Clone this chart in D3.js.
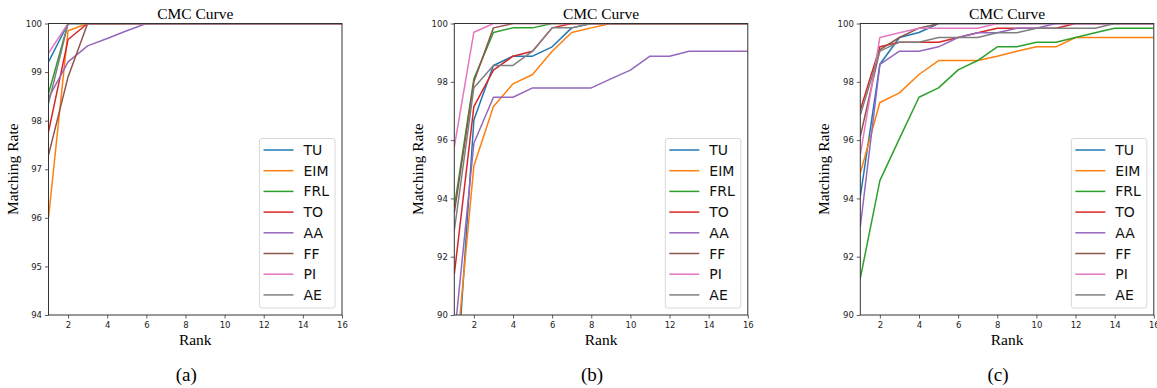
<!DOCTYPE html>
<html>
<head>
<meta charset="utf-8">
<script src="https://cdn.jsdelivr.net/npm/d3@7"></script>
<style>
  html, body { margin: 0; padding: 0; background: #fff; }
  svg { display: block; }
</style>
</head>
<body>
<svg id="chart" width="1157" height="388"></svg>
<script>
// CMC curves, three panels (a) (b) (c)

const ranks = d3.range(1, 17);
const methods = ["TU", "EIM", "FRL", "TO", "AA", "FF", "PI", "AE"];
const methodColors = ["#1f77b4", "#ff7f0e", "#2ca02c", "#d62728", "#9467bd", "#8c564b", "#e377c2", "#7f7f7f"];
const xTicks = [2, 4, 6, 8, 10, 12, 14, 16];
const panelLabels = ["(a)", "(b)", "(c)"];
const yDomains = [[94, 100], [90, 100], [90, 100]];
const yTicksA = [94, 95, 96, 97, 98, 99, 100];
const yTicksBC = [90, 92, 94, 96, 98, 100];

// rows follow `methods`, columns follow `ranks`
const rateA = [
    [99.21, 100, 100, 100, 100, 100, 100, 100, 100, 100, 100, 100, 100, 100, 100, 100],
    [96.0, 99.85, 100, 100, 100, 100, 100, 100, 100, 100, 100, 100, 100, 100, 100, 100],
    [98.56, 100, 100, 100, 100, 100, 100, 100, 100, 100, 100, 100, 100, 100, 100, 100],
    [97.77, 99.67, 100, 100, 100, 100, 100, 100, 100, 100, 100, 100, 100, 100, 100, 100],
    [98.47, 99.21, 99.54, 99.69, 99.85, 100, 100, 100, 100, 100, 100, 100, 100, 100, 100, 100],
    [97.29, 98.9, 100, 100, 100, 100, 100, 100, 100, 100, 100, 100, 100, 100, 100, 100],
    [99.39, 100, 100, 100, 100, 100, 100, 100, 100, 100, 100, 100, 100, 100, 100, 100],
    [98.35, 100, 100, 100, 100, 100, 100, 100, 100, 100, 100, 100, 100, 100, 100, 100],
];

const rateB = [
    [86.5, 96.69, 98.56, 98.88, 98.88, 99.2, 99.85, 100, 100, 100, 100, 100, 100, 100, 100, 100],
    [87.9, 95.11, 97.15, 97.93, 98.25, 99.05, 99.69, 99.85, 100, 100, 100, 100, 100, 100, 100, 100],
    [93.7, 98.1, 99.69, 99.85, 99.85, 100, 100, 100, 100, 100, 100, 100, 100, 100, 100, 100],
    [91.4, 97.15, 98.4, 98.88, 99.05, 99.85, 100, 100, 100, 100, 100, 100, 100, 100, 100, 100],
    [89.2, 95.89, 97.47, 97.47, 97.79, 97.79, 97.79, 97.79, 98.1, 98.4, 98.88, 98.88, 99.05, 99.05, 99.05, 99.05],
    [93.5, 98.0, 99.85, 100, 100, 100, 100, 100, 100, 100, 100, 100, 100, 100, 100, 100],
    [95.77, 99.7, 100, 100, 100, 100, 100, 100, 100, 100, 100, 100, 100, 100, 100, 100],
    [92.9, 97.8, 98.56, 98.56, 99.05, 99.85, 99.85, 100, 100, 100, 100, 100, 100, 100, 100, 100],
];

const rateC = [
    [94.06, 98.6, 99.52, 99.69, 100, 100, 100, 100, 100, 100, 100, 100, 100, 100, 100, 100],
    [94.86, 97.29, 97.62, 98.25, 98.73, 98.73, 98.73, 98.88, 99.05, 99.2, 99.2, 99.52, 99.52, 99.52, 99.52, 99.52],
    [91.26, 94.61, 96.05, 97.47, 97.79, 98.41, 98.73, 99.2, 99.2, 99.36, 99.36, 99.52, 99.68, 99.84, 99.84, 99.84],
    [97.03, 99.2, 99.36, 99.36, 99.36, 99.52, 99.68, 99.84, 99.84, 99.84, 99.84, 100, 100, 100, 100, 100],
    [93.03, 98.6, 99.05, 99.05, 99.2, 99.52, 99.68, 99.68, 99.84, 99.84, 100, 100, 100, 100, 100, 100],
    [96.12, 99.1, 99.52, 99.84, 100, 100, 100, 100, 100, 100, 100, 100, 100, 100, 100, 100],
    [95.49, 99.52, 99.68, 99.84, 99.84, 99.84, 99.84, 100, 100, 100, 100, 100, 100, 100, 100, 100],
    [96.86, 99.05, 99.36, 99.36, 99.52, 99.52, 99.52, 99.68, 99.68, 99.84, 99.84, 99.84, 99.84, 100, 100, 100],
];

const panels = [
    { rates: rateA, yTicks: yTicksA, left: 48.5, ylabX: 17.5 },
    { rates: rateB, yTicks: yTicksBC, left: 454.3, ylabX: 422.5 },
    { rates: rateC, yTicks: yTicksBC, left: 860.3, ylabX: 829 },
];

const svg = d3.select("#chart");
const plotW = 293.5, plotTop = 23.5, plotBottom = 315;
const serif = "'Liberation Serif', 'Times New Roman', serif";
const sans = "'DejaVu Sans', sans-serif";

panels.forEach((p, i) => {
    const x = d3.scaleLinear().domain([1, 16]).range([p.left, p.left + plotW]);
    const y = d3.scaleLinear().domain(yDomains[i]).range([plotBottom, plotTop]);
    const cx = p.left + plotW / 2;

    const clipId = "clip" + i;
    svg.append("clipPath").attr("id", clipId)
        .append("rect")
        .attr("x", p.left).attr("y", plotTop)
        .attr("width", plotW).attr("height", plotBottom - plotTop);

    // Lines
    const line = d3.line().x((d, j) => x(ranks[j])).y(d => y(d));
    svg.append("g")
        .attr("clip-path", `url(#${clipId})`)
        .selectAll("path")
        .data(p.rates)
        .join("path")
        .attr("d", line)
        .attr("fill", "none")
        .attr("stroke", (d, k) => methodColors[k])
        .attr("stroke-width", 1.5)
        .attr("stroke-linejoin", "round");

    // Axes
    const xAxis = svg.append("g")
        .attr("transform", `translate(0,${plotBottom})`)
        .call(d3.axisBottom(x).tickValues(xTicks).tickFormat(d3.format("d")).tickSize(3.5).tickPadding(3));
    const yAxis = svg.append("g")
        .attr("transform", `translate(${p.left},0)`)
        .call(d3.axisLeft(y).tickValues(p.yTicks).tickFormat(d3.format("d")).tickSize(3.5).tickPadding(3));
    [xAxis, yAxis].forEach(a => {
        a.select(".domain").remove();
        a.selectAll("line").attr("stroke", "#333").attr("stroke-width", 0.8);
        a.selectAll("text").attr("font-family", sans).attr("font-size", "8.5px").attr("fill", "#222");
    });

    // Frame
    svg.append("rect")
        .attr("x", p.left).attr("y", plotTop)
        .attr("width", plotW).attr("height", plotBottom - plotTop)
        .attr("fill", "none")
        .attr("stroke", "#333")
        .attr("stroke-width", 1);

    // Titles
    svg.append("text")
        .attr("x", cx).attr("y", 19)
        .attr("text-anchor", "middle")
        .attr("font-family", serif).attr("font-size", "15.5px")
        .text("CMC Curve");
    svg.append("text")
        .attr("x", cx).attr("y", 345)
        .attr("text-anchor", "middle")
        .attr("font-family", serif).attr("font-size", "15.5px")
        .text("Rank");
    svg.append("text")
        .attr("transform", `translate(${p.ylabX},${(plotTop + plotBottom) / 2}) rotate(-90)`)
        .attr("text-anchor", "middle")
        .attr("font-family", serif).attr("font-size", "15.5px")
        .text("Matching Rate");
    svg.append("text")
        .attr("x", cx - 9).attr("y", 381)
        .attr("text-anchor", "middle")
        .attr("font-family", serif).attr("font-size", "19px")
        .text(panelLabels[i]);

    // Legend
    const lx = p.left + plotW - 82.5, ly = 138.5;
    const leg = svg.append("g").attr("transform", `translate(${lx},${ly})`);
    leg.append("rect")
        .attr("width", 75.5).attr("height", 169.5)
        .attr("rx", 2.5)
        .attr("fill", "#fff").attr("fill-opacity", 0.8)
        .attr("stroke", "#d8d8d8").attr("stroke-width", 1);
    const item = leg.selectAll("g.item")
        .data(methods)
        .join("g")
        .attr("class", "item")
        .attr("transform", (d, k) => `translate(0,${11.5 + k * 20.7})`);
    item.append("line")
        .attr("x1", 4).attr("x2", 34)
        .attr("stroke", (d, k) => methodColors[k])
        .attr("stroke-width", 1.5);
    item.append("text")
        .attr("x", 44).attr("y", 5)
        .attr("font-family", sans).attr("font-size", "14px")
        .attr("fill", "#111")
        .text(d => d);
});
</script>
</body>
</html>
